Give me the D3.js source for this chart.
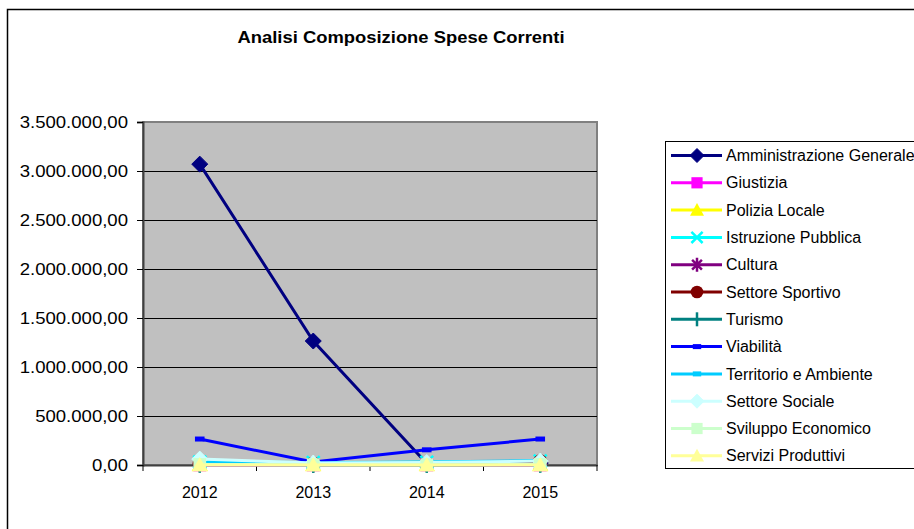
<!DOCTYPE html>
<html>
<head>
<meta charset="utf-8">
<script src="https://cdn.jsdelivr.net/npm/d3@7"></script>
<style>
  body { margin: 0; background: #fff; }
  text { font-family: "Liberation Sans", Arial, sans-serif; }
</style>
</head>
<body>
<script>
var width = 914,
    height = 529;

// data
var years = ["2012", "2013", "2014", "2015"];
var seriesNames = ["Amministrazione Generale", "Giustizia", "Polizia Locale", "Istruzione Pubblica",
  "Cultura", "Settore Sportivo", "Turismo", "Viabilità", "Territorio e Ambiente",
  "Settore Sociale", "Sviluppo Economico", "Servizi Produttivi"];
var amministrazione = [3070000, 1265000, 15000, 20000];
var giustizia = [0, 0, 0, 0];
var polizia = [5000, 4000, 3000, 6000];
var istruzione = [30000, 25000, 28000, 40000];
var cultura = [10000, 8000, 9000, 12000];
var sportivo = [15000, 12000, 10000, 35000];
var turismo = [2000, 1000, 1000, 2000];
var viabilita = [265000, 30000, 155000, 265000];
var territorio = [25000, 20000, 30000, 45000];
var sociale = [60000, 20000, 25000, 40000];
var sviluppo = [5000, 3000, 3000, 5000];
var servizi = [0, 0, 0, 0];
var yTicks = [0, 500000, 1000000, 1500000, 2000000, 2500000, 3000000, 3500000];

var allValues = [amministrazione, giustizia, polizia, istruzione, cultura, sportivo,
  turismo, viabilita, territorio, sociale, sviluppo, servizi];
var colors = ["#000080", "#FF00FF", "#FFFF00", "#00FFFF", "#800080", "#800000",
  "#008080", "#0000FF", "#00CCFF", "#CCFFFF", "#CCFFCC", "#FFFF99"];
var shapes = ["diamond", "square", "triangle", "x", "star", "circle",
  "plus", "dash", "dash", "diamond", "square", "triangle"];

var series = seriesNames.map(function(n, i) {
  return {name: n, values: allValues[i], color: colors[i], shape: shapes[i]};
});

var svg = d3.select("body").append("svg")
    .attr("width", width)
    .attr("height", height);

// outer chart border
svg.append("rect")
    .attr("x", 7.5).attr("y", 9.5)
    .attr("width", 930).attr("height", 540)
    .attr("fill", "#fff").attr("stroke", "#000").attr("stroke-width", 1.5);

// title is drawn a bit wider than its height, as in the picture
svg.append("text")
    .attr("transform", "translate(401,43) scale(1.15,1)")
    .attr("text-anchor", "middle")
    .style("font-size", "16px").style("font-weight", "bold")
    .text("Analisi Composizione Spese Correnti");

var plot = {left: 143, top: 122, right: 597, bottom: 465};

var x = d3.scaleBand().domain(years).range([plot.left, plot.right]);
var y = d3.scaleLinear().domain([0, 3500000]).range([plot.bottom, plot.top]);

svg.append("rect")
    .attr("x", plot.left).attr("y", plot.top)
    .attr("width", plot.right - plot.left).attr("height", plot.bottom - plot.top)
    .attr("fill", "#C0C0C0").attr("stroke", "#808080").attr("stroke-width", 2);

// gridlines
svg.append("g").selectAll("line").data(yTicks.slice(1, -1))
  .enter().append("line")
    .attr("x1", plot.left).attr("x2", plot.right)
    .attr("y1", d => Math.round(y(d)) + 0.5).attr("y2", d => Math.round(y(d)) + 0.5)
    .attr("stroke", "#000");

var fmt = function(v) {
  return d3.format(",.2f")(v).replace(/,/g, "#").replace(".", ",").replace(/#/g, ".");
};

var ySx = 1.16;
var yAxis = svg.append("g")
    .attr("transform", "translate(" + plot.left + ",0)")
    .call(d3.axisLeft(y).tickValues(yTicks).tickFormat(fmt).tickSize(6));
yAxis.select(".domain").attr("stroke", "#404040").attr("stroke-width", 2);
yAxis.selectAll(".tick line").attr("stroke", "#000");
yAxis.selectAll("text").style("font-size", "16px").attr("fill", "#000")
    .attr("font-family", null)
    .attr("x", -15 / ySx)
    .attr("transform", "scale(" + ySx + ",1)");

var xAxis = svg.append("g")
    .attr("transform", "translate(0," + plot.bottom + ")")
    .call(d3.axisBottom(x).tickSize(0).tickPadding(22));
xAxis.select(".domain").attr("stroke", "#404040").attr("stroke-width", 2);
xAxis.selectAll("text").style("font-size", "16px").attr("fill", "#000")
    .attr("font-family", null);
// ticks between categories
svg.append("g").selectAll("line").data(d3.range(years.length + 1))
  .enter().append("line")
    .attr("x1", i => plot.left + i * x.step()).attr("x2", i => plot.left + i * x.step())
    .attr("y1", plot.bottom).attr("y2", plot.bottom + 6)
    .attr("stroke", "#000");

function marker(g, shape, color, s) {
  if (shape == "diamond") {
    g.append("path").attr("d", "M0," + (-s) + "L" + s + ",0L0," + s + "L" + (-s) + ",0Z")
      .attr("fill", color).attr("stroke", color);
  } else if (shape == "square") {
    g.append("rect").attr("x", -s * 0.8).attr("y", -s * 0.8)
      .attr("width", s * 1.6).attr("height", s * 1.6).attr("fill", color);
  } else if (shape == "triangle") {
    g.append("path").attr("d", "M0," + (-s) + "L" + s + "," + s * 0.8 + "L" + (-s) + "," + s * 0.8 + "Z")
      .attr("fill", color);
  } else if (shape == "x") {
    g.append("path").attr("d", "M" + (-s * 0.8) + "," + (-s * 0.8) + "L" + s * 0.8 + "," + s * 0.8 +
      "M" + s * 0.8 + "," + (-s * 0.8) + "L" + (-s * 0.8) + "," + s * 0.8)
      .attr("stroke", color).attr("stroke-width", 2.5);
  } else if (shape == "star") {
    g.append("path").attr("d", "M" + (-s * 0.7) + "," + (-s * 0.7) + "L" + s * 0.7 + "," + s * 0.7 +
      "M" + s * 0.7 + "," + (-s * 0.7) + "L" + (-s * 0.7) + "," + s * 0.7 + "M0," + (-s) + "L0," + s)
      .attr("stroke", color).attr("stroke-width", 2.5);
  } else if (shape == "circle") {
    g.append("circle").attr("r", s * 0.9).attr("fill", color);
  } else if (shape == "plus") {
    g.append("path").attr("d", "M0," + (-s) + "L0," + s)
      .attr("stroke", color).attr("stroke-width", 2.5);
  } else if (shape == "dash") {
    g.append("rect").attr("x", -s * 0.6).attr("y", -2.5).attr("width", s * 1.2).attr("height", 5)
      .attr("fill", color);
  }
}

var line = d3.line()
    .x((d, i) => x(years[i]) + x.bandwidth() / 2)
    .y(d => y(d));

var gSeries = svg.append("g").selectAll("g").data(series).enter().append("g");
gSeries.append("path")
    .attr("d", d => line(d.values))
    .attr("fill", "none")
    .attr("stroke", d => d.color)
    .attr("stroke-width", 3);
gSeries.each(function(d) {
  var g = d3.select(this);
  d.values.forEach(function(v, i) {
    var m = g.append("g")
      .attr("transform", "translate(" + (x(years[i]) + x.bandwidth() / 2) + "," + y(v) + ")");
    marker(m, d.shape, d.color, 8);
  });
});

// legend
var legend = svg.append("g");
legend.append("rect")
    .attr("x", 665.5).attr("y", 141.5)
    .attr("width", 270).attr("height", 327)
    .attr("fill", "#fff").attr("stroke", "#000");
var items = legend.selectAll("g.item").data(series).enter().append("g")
    .attr("class", "item")
    .attr("transform", (d, i) => "translate(0," + (155.5 + i * 27.3) + ")");
items.append("line")
    .attr("x1", 671).attr("x2", 722)
    .attr("stroke", d => d.color).attr("stroke-width", 3);
items.each(function(d) {
  var m = d3.select(this).append("g").attr("transform", "translate(697,0)");
  marker(m, d.shape, d.color, 7);
});
items.append("text")
    .attr("x", 726).attr("dy", "0.35em")
    .style("font-size", "16px")
    .text(d => d.name);
</script>
</body>
</html>
